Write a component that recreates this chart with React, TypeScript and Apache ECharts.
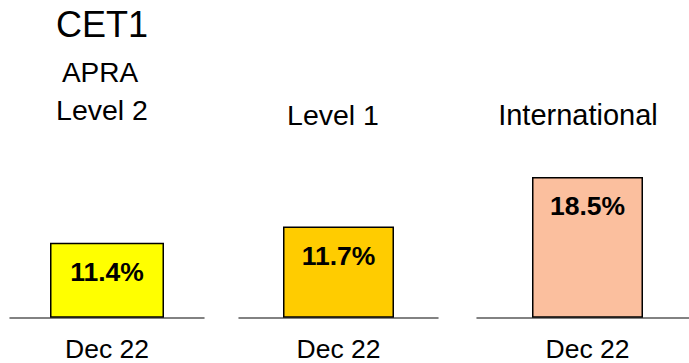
import React, { useEffect, useRef } from "react";
import * as echarts from "echarts";

const categories = ["Dec 22"];
const panelNames = ["APRA Level 2", "APRA Level 1", "International"];
const values = [11.4, 11.7, 18.5];
const barColors = ["#FFFF00", "#FFCC00", "#FBBF9E"];
const axisMin = [0, 0, 0];
const axisMax = [33.1, 27.9, 28.6];
const headings = ["CET1", "APRA", "Level 2", "Level 1", "International"];

const FONT = "'Liberation Sans', Arial, sans-serif";

export default function App() {
  const ref = useRef<HTMLDivElement>(null);
  useEffect(() => {
    if (!ref.current) return;
    const chart = echarts.init(ref.current, undefined, { renderer: "svg" });
    const grids = [
      { left: 10, right: 494 },
      { left: 239, right: 260 },
      { left: 477, right: 0 },
    ].map((g) => ({ ...g, top: 100, bottom: 45.3 }));
    const barWidths = [114, 111, 111];
    const headPos = [
      { x: 102, y: 24, size: 36 },
      { x: 100, y: 72, size: 28 },
      { x: 102, y: 110, size: 28.5 },
      { x: 333, y: 115, size: 28.5 },
      { x: 578, y: 115, size: 29 },
    ];
    chart.setOption({
      animation: false,
      backgroundColor: "#ffffff",
      grid: grids,
      xAxis: grids.map((_, i) => ({
        type: "category",
        gridIndex: i,
        data: categories,
        axisLine: { show: true, lineStyle: { color: "#595959", width: 1.5 } },
        axisTick: { show: false },
        axisLabel: {
          color: "#000",
          fontFamily: FONT,
          fontSize: 26.5,
          margin: 18,
        },
      })),
      yAxis: grids.map((_, i) => ({
        type: "value",
        gridIndex: i,
        min: axisMin[i],
        max: axisMax[i],
        show: false,
        splitLine: { show: false },
      })),
      series: values.map((v, i) => ({
        type: "bar",
        name: panelNames[i],
        xAxisIndex: i,
        yAxisIndex: i,
        barWidth: barWidths[i],
        data: [v],
        itemStyle: {
          color: barColors[i],
          borderColor: "#000",
          borderWidth: 1.5,
        },
        label: {
          show: true,
          position: "insideTop",
          distance: 16,
          formatter: (p: any) => p.value.toFixed(1) + "%",
          color: "#000",
          fontFamily: FONT,
          fontWeight: "bold",
          fontSize: 26.5,
        },
      })),
      graphic: headings.map((t, i) => ({
        type: "text",
        x: headPos[i].x,
        y: headPos[i].y,
        style: {
          text: t,
          fill: "#000",
          font: `${headPos[i].size}px ${FONT}`,
          textAlign: "center",
          textVerticalAlign: "middle",
        },
      })),
    });
    return () => chart.dispose();
  }, []);
  return (
    <div
      ref={ref}
      style={{ position: "fixed", left: 0, top: 0, width: 698, height: 363 }}
    />
  );
}
